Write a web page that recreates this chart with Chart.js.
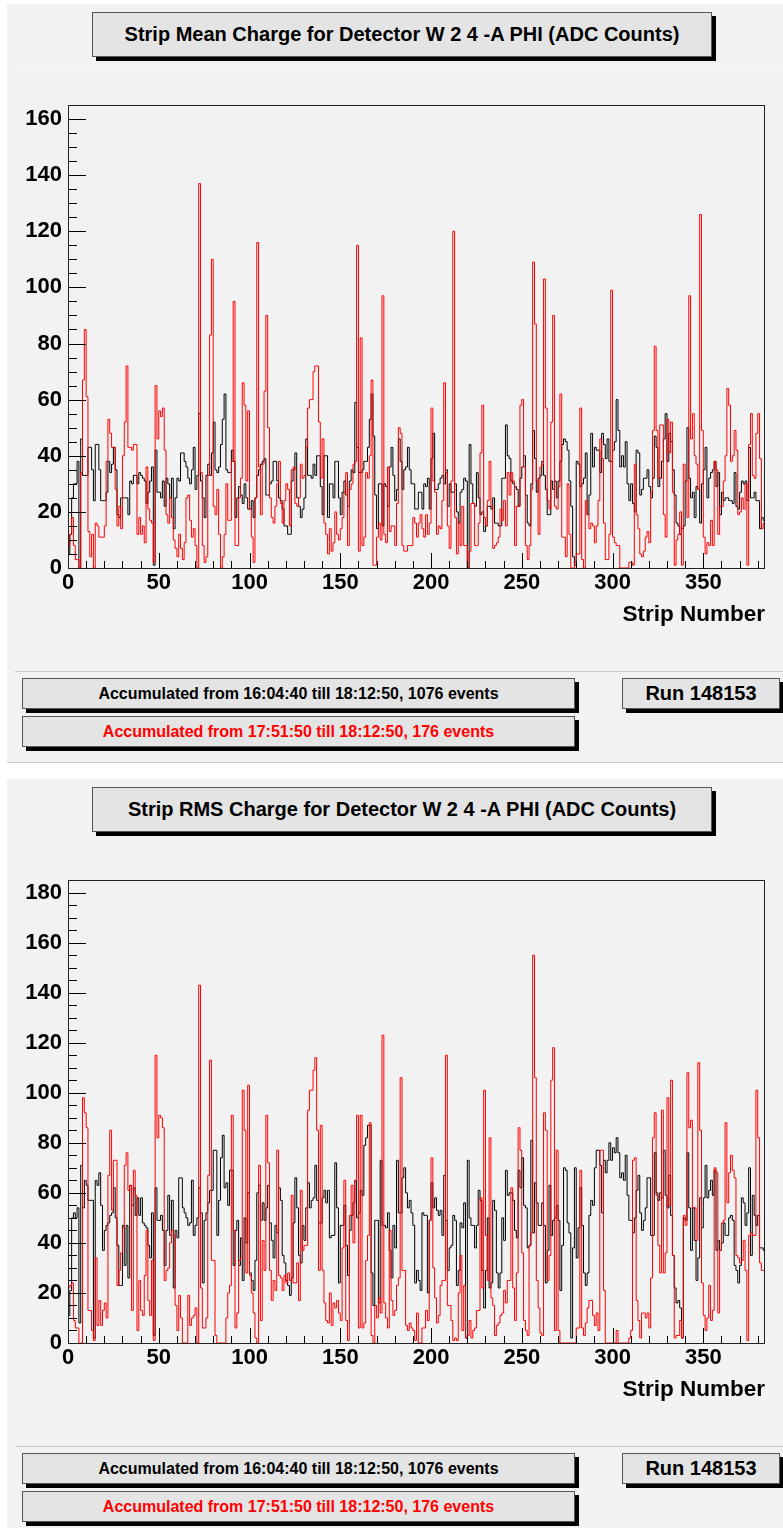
<!DOCTYPE html>
<html>
<head>
<meta charset="utf-8">
<title>Strip charge, detector W 2 4 -A PHI</title>
<script src="https://cdn.jsdelivr.net/npm/chart.js@4.4.1/dist/chart.umd.min.js"></script>
<style>
  body { margin: 0; width: 783px; height: 1528px; position: relative; overflow: hidden; background: #fff;
         font-family: "Liberation Sans", Arial, Helvetica, sans-serif; }
  .panel { position: absolute; left: 0; width: 783px; overflow: hidden; }
  .outer { position: absolute; left: 7px; right: 0; top: 4px; bottom: 0; background: #f2f2f2;
           border-bottom: 1px solid #c8c8c8; }
  .plotpad { position: absolute; left: 15px; right: 0; top: 66px; height: 604px; background: #f2f2f2;
             border-top: 1px solid #f8f8f8; border-bottom: 1px solid #c8c8c8; }
  .box { position: absolute; box-sizing: border-box; background: #e4e4e4; border: 1px solid #555;
         box-shadow: 4px 4px 0 #000; font-weight: bold; text-align: center; white-space: nowrap; color: #000; }
  .title { left: 92px; top: 12px; width: 620px; height: 45px; line-height: 43px; font-size: 20px; }
  .acc { left: 22px; width: 553px; height: 31px; line-height: 29px; font-size: 16px; }
  .run { left: 622px; top: 678px; width: 158px; height: 31px; line-height: 29px; font-size: 20px; }
  .red { color: #ff0000; }
  canvas { position: absolute; left: 0; top: 66px; }
</style>
</head>
<body>

<div class="panel" style="top:0; height:763px;">
  <div class="outer"></div>
  <div class="plotpad"></div>
  <div class="box title">Strip Mean Charge for Detector W 2 4 -A PHI (ADC Counts)</div>
  <canvas id="meanChart" width="783" height="604"></canvas>
  <div class="box acc" style="top:678px;">Accumulated from 16:04:40 till 18:12:50, 1076 events</div>
  <div class="box acc red" style="top:716px;">Accumulated from 17:51:50 till 18:12:50, 176 events</div>
  <div class="box run">Run 148153</div>
</div>

<div class="panel" style="top:775px; height:753px;">
  <div class="outer" style="border-bottom:none;"></div>
  <div class="plotpad"></div>
  <div class="box title">Strip RMS Charge for Detector W 2 4 -A PHI (ADC Counts)</div>
  <canvas id="rmsChart" width="783" height="604"></canvas>
  <div class="box acc" style="top:678px;">Accumulated from 16:04:40 till 18:12:50, 1076 events</div>
  <div class="box acc red" style="top:716px;">Accumulated from 17:51:50 till 18:12:50, 176 events</div>
  <div class="box run">Run 148153</div>
</div>

<script>
const stripCount = 384;
const xTickValues = [0, 50, 100, 150, 200, 250, 300, 350];
const meanYTicks = [0, 20, 40, 60, 80, 100, 120, 140, 160];
const rmsYTicks = [0, 20, 40, 60, 80, 100, 120, 140, 160, 180];
const meanYMax = 165;
const rmsYMax = 185;

// mean charge per strip, whole run (16:04:40 - 18:12:50)
const meanAll = [
  5,12,25,30,30,38,0,46,33,33,33,43,43,35,24,44,
  44,35,24,24,24,27,38,34,37,43,35,19,18,25,25,25,
  25,19,31,30,33,33,30,34,33,32,31,23,27,31,36,1,
  42,27,27,25,31,22,32,30,25,32,14,25,32,31,41,41,
  38,36,32,30,35,43,28,33,55,31,25,18,33,37,33,41,
  52,35,34,36,44,53,62,35,34,34,42,38,18,25,29,26,
  23,30,25,21,21,24,18,25,33,35,37,38,39,26,26,30,
  31,38,38,31,25,24,21,15,15,12,12,31,35,41,25,22,
  18,21,25,46,33,33,32,37,33,40,40,29,19,40,40,18,
  30,30,25,38,38,25,19,27,31,26,22,31,35,34,59,43,
  34,34,35,38,38,43,53,62,47,26,14,30,30,15,30,29,
  22,36,43,33,24,28,46,38,28,35,36,43,35,30,30,21,
  21,27,27,21,30,29,32,21,39,48,28,28,30,32,33,30,
  35,22,30,27,27,30,20,16,27,28,32,31,0,44,30,23,
  22,34,25,19,20,13,15,22,22,21,25,16,16,15,15,32,
  32,51,40,39,31,30,29,28,22,32,36,40,26,16,15,30,
  49,39,27,32,33,38,33,28,19,19,31,28,31,25,31,38,
  44,46,45,42,31,22,4,1,38,37,29,30,32,41,19,26,
  48,36,43,42,42,34,48,44,39,46,38,38,42,45,60,49,
  36,40,36,45,30,24,30,23,20,42,41,26,28,32,32,35,
  29,25,32,47,43,29,32,38,46,55,38,48,45,35,26,16,
  15,12,14,15,31,50,32,25,27,18,29,28,16,30,35,43,
  25,32,34,35,38,29,34,19,27,24,25,25,24,24,23,34,
  22,21,27,31,30,31,24,43,25,25,27,24,24,14,18,17
];

// mean charge per strip, last 176 events (17:51:50 - 18:12:50)
const meanRecent = [
  8,12,18,8,3,3,0,34,67,85,61,13,4,12,0,16,
  15,11,11,11,15,38,53,48,43,43,28,15,22,14,40,52,
  72,43,43,42,44,44,12,18,12,15,9,36,21,17,16,2,
  65,46,56,54,57,42,19,16,25,18,10,7,4,12,7,3,
  9,25,26,17,11,14,8,0,137,34,8,2,4,33,83,110,
  22,19,28,12,0,4,12,30,17,17,38,95,8,8,25,32,
  66,58,31,56,21,11,2,25,116,36,19,37,63,90,50,25,
  18,16,22,30,38,23,16,24,30,28,15,35,36,23,22,25,
  37,32,33,43,57,60,60,70,72,72,52,32,46,16,12,5,
  14,6,9,20,12,10,14,18,27,34,8,28,30,37,38,115,
  6,82,8,11,34,32,40,67,1,1,11,16,10,97,12,9,
  36,13,15,15,8,23,50,48,8,6,6,8,8,8,18,16,
  11,16,19,14,11,19,12,16,57,31,27,12,15,14,24,66,
  34,15,7,31,120,18,5,16,8,22,8,8,0,6,23,23,
  8,8,16,41,58,18,15,24,38,22,7,8,9,11,21,17,
  24,15,34,26,34,31,8,22,22,58,60,36,8,3,8,28,
  109,87,31,12,36,37,103,57,24,21,52,90,22,21,29,62,
  11,11,4,30,12,0,0,2,5,5,57,3,0,24,19,14,
  16,15,9,15,24,46,39,16,3,3,12,99,11,9,8,8,
  0,0,0,0,0,2,2,1,37,19,14,5,4,6,11,13,
  9,27,49,79,49,32,51,51,19,11,53,41,52,27,1,10,
  12,20,1,37,31,18,97,46,55,40,37,28,126,49,11,5,
  9,8,17,8,38,35,12,22,22,31,40,64,58,38,40,49,
  42,19,20,25,21,30,1,44,55,33,32,48,55,39,14,16
];

// RMS charge per strip, whole run
const rmsAll = [
  11,21,50,52,50,54,8,71,54,65,63,57,57,57,2,65,
  63,68,55,37,45,47,48,51,52,62,50,39,23,23,47,31,
  47,26,63,55,62,51,58,51,58,48,47,46,39,34,52,3,
  62,49,49,51,45,31,45,59,43,57,22,45,42,66,66,54,
  52,50,47,48,65,43,47,50,62,52,24,49,52,56,61,61,
  77,77,43,57,74,83,62,64,55,69,69,31,45,49,31,42,
  25,50,40,60,28,25,21,33,60,63,49,56,49,54,63,48,
  41,34,47,44,62,57,35,32,25,23,19,26,48,66,54,35,
  32,47,41,54,64,54,57,58,71,57,48,48,58,61,56,61,
  42,43,43,72,54,24,47,47,55,39,27,45,51,56,65,50,
  52,61,59,79,82,87,87,28,15,49,49,16,73,47,47,46,
  52,37,26,47,38,73,52,52,66,70,60,54,57,52,47,24,
  29,25,21,52,51,51,20,49,64,54,58,53,51,53,43,67,
  49,29,38,39,51,49,23,29,48,46,56,2,73,50,47,47,
  38,47,61,57,29,14,29,50,22,24,57,53,28,22,28,50,
  41,69,59,60,60,57,45,42,69,62,74,55,54,38,39,81,
  44,64,56,47,47,56,47,24,37,63,43,49,50,55,49,21,
  39,70,69,48,44,2,38,70,34,46,62,47,28,23,28,51,
  57,55,70,77,77,71,52,73,68,73,80,73,78,76,82,76,
  66,68,65,75,59,49,49,44,50,61,67,52,45,49,54,66,
  66,43,43,76,60,57,60,58,77,59,54,67,51,35,22,16,
  17,14,2,50,49,76,54,37,54,41,25,34,58,46,58,71,
  58,61,65,59,69,37,41,37,40,48,43,43,50,51,49,31,
  29,24,31,58,56,47,52,70,35,59,51,47,51,38,38,37
];

// RMS charge per strip, last 176 events
const rmsRecent = [
  22,23,24,9,6,6,0,0,98,92,86,13,13,5,1,34,
  7,17,7,13,16,10,67,85,53,73,73,23,29,36,46,71,
  76,61,63,13,69,59,5,25,13,11,27,45,17,11,33,1,
  115,82,91,90,86,25,29,30,40,45,43,15,5,19,10,0,
  0,0,19,7,10,11,14,0,143,22,6,6,10,67,113,33,
  33,3,0,0,0,0,0,10,20,23,91,45,6,12,33,34,
  101,85,28,103,27,20,12,2,0,71,9,41,29,91,72,29,
  17,25,21,77,27,26,21,27,24,28,25,59,24,24,32,17,
  61,37,39,39,93,101,101,109,114,85,29,87,29,16,9,8,
  20,7,16,14,17,12,9,38,65,9,1,51,63,40,65,91,
  6,91,6,8,33,43,88,3,0,15,10,18,12,123,16,10,
  6,45,17,11,13,23,26,106,29,29,7,5,8,6,5,1,
  12,0,0,6,6,13,9,49,74,30,18,8,11,23,25,25,
  115,15,15,9,1,2,1,20,35,5,23,2,3,9,2,5,
  6,13,13,58,22,101,43,25,82,18,15,3,7,8,11,12,
  21,16,25,25,62,22,9,28,86,77,36,9,5,3,39,44,
  155,106,25,14,4,3,92,85,25,35,105,118,5,77,5,0,
  0,0,0,0,0,0,0,0,6,6,69,6,3,8,14,17,
  17,11,7,12,5,77,77,21,0,0,0,0,0,0,5,0,
  0,0,0,0,0,2,5,73,74,17,9,2,12,12,10,12,
  6,26,82,92,59,39,28,93,28,36,98,55,105,35,2,3,
  3,9,2,51,47,108,86,89,54,54,41,112,85,24,11,5,
  10,23,9,13,70,68,12,37,48,49,88,56,68,75,69,66,
  35,34,32,33,41,29,1,43,44,43,43,101,82,32,29,29
];

// bin contents -> left-edge points, plus a closing point at the last edge
function toSteps(values) {
  const pts = values.map((v, i) => ({ x: i, y: v }));
  pts.push({ x: values.length, y: values[values.length - 1] });
  return pts;
}

// ROOT-like frame: inward ticks on the bottom and left axes, box round the plot
const rootFrame = {
  id: 'rootFrame',
  afterDatasetsDraw(chart) {
    const { ctx, chartArea: a, scales: { x, y } } = chart;
    ctx.save();
    ctx.strokeStyle = '#000';
    ctx.lineWidth = 1;
    ctx.beginPath();
    for (let v = 0; v <= x.max; v += 10) {
      const px = Math.round(x.getPixelForValue(v)) + 0.5;
      const len = v % 50 === 0 ? 15 : 7;
      ctx.moveTo(px, a.bottom);
      ctx.lineTo(px, a.bottom - len);
    }
    for (let v = 0; v <= y.max; v += 5) {
      const py = Math.round(y.getPixelForValue(v)) + 0.5;
      const len = v % 20 === 0 ? 18 : 9;
      ctx.moveTo(a.left, py);
      ctx.lineTo(a.left + len, py);
    }
    ctx.stroke();
    ctx.strokeStyle = '#222';
    ctx.strokeRect(a.left + 0.5, a.top + 0.5, a.right - a.left - 1, a.bottom - a.top);
    ctx.restore();
  }
};

Chart.defaults.font.family = '"Liberation Sans", Arial, Helvetica, sans-serif';
Chart.defaults.color = '#000';

function drawStripChart(canvasId, allRun, recent, yMax, yTicks) {
  return new Chart(document.getElementById(canvasId), {
    type: 'line',
    data: {
      datasets: [
        { data: toSteps(recent), borderColor: '#ff0000', borderWidth: 1, stepped: true,
          pointRadius: 0, fill: false, tension: 0 },
        { data: toSteps(allRun), borderColor: '#000000', borderWidth: 1, stepped: true,
          pointRadius: 0, fill: false, tension: 0 }
      ]
    },
    options: {
      responsive: false,
      animation: false,
      events: [],
      layout: { padding: { top: 39, right: 18, bottom: 42, left: 0 } },
      plugins: { legend: { display: false }, tooltip: { enabled: false } },
      scales: {
        x: {
          type: 'linear',
          min: 0,
          max: stripCount,
          grid: { display: false, drawTicks: false },
          border: { display: false },
          afterBuildTicks: (s) => { s.ticks = xTickValues.map((v) => ({ value: v })); },
          afterFit: (s) => { s.height = 60; },
          ticks: { padding: 2, font: { size: 22, weight: 'bold' }, maxRotation: 0, autoSkip: false },
          title: { display: true, text: 'Strip Number', align: 'end', padding: 0,
                   font: { size: 22.5, weight: 'bold' } }
        },
        y: {
          min: 0,
          max: yMax,
          grid: { display: false, drawTicks: false },
          border: { display: false },
          afterBuildTicks: (s) => { s.ticks = yTicks.map((v) => ({ value: v })); },
          afterFit: (s) => { s.width = 68; },
          ticks: { padding: 6, font: { size: 22, weight: 'bold' }, autoSkip: false }
        }
      }
    },
    plugins: [rootFrame]
  });
}

drawStripChart('meanChart', meanAll, meanRecent, meanYMax, meanYTicks);
drawStripChart('rmsChart', rmsAll, rmsRecent, rmsYMax, rmsYTicks);
</script>
</body>
</html>
